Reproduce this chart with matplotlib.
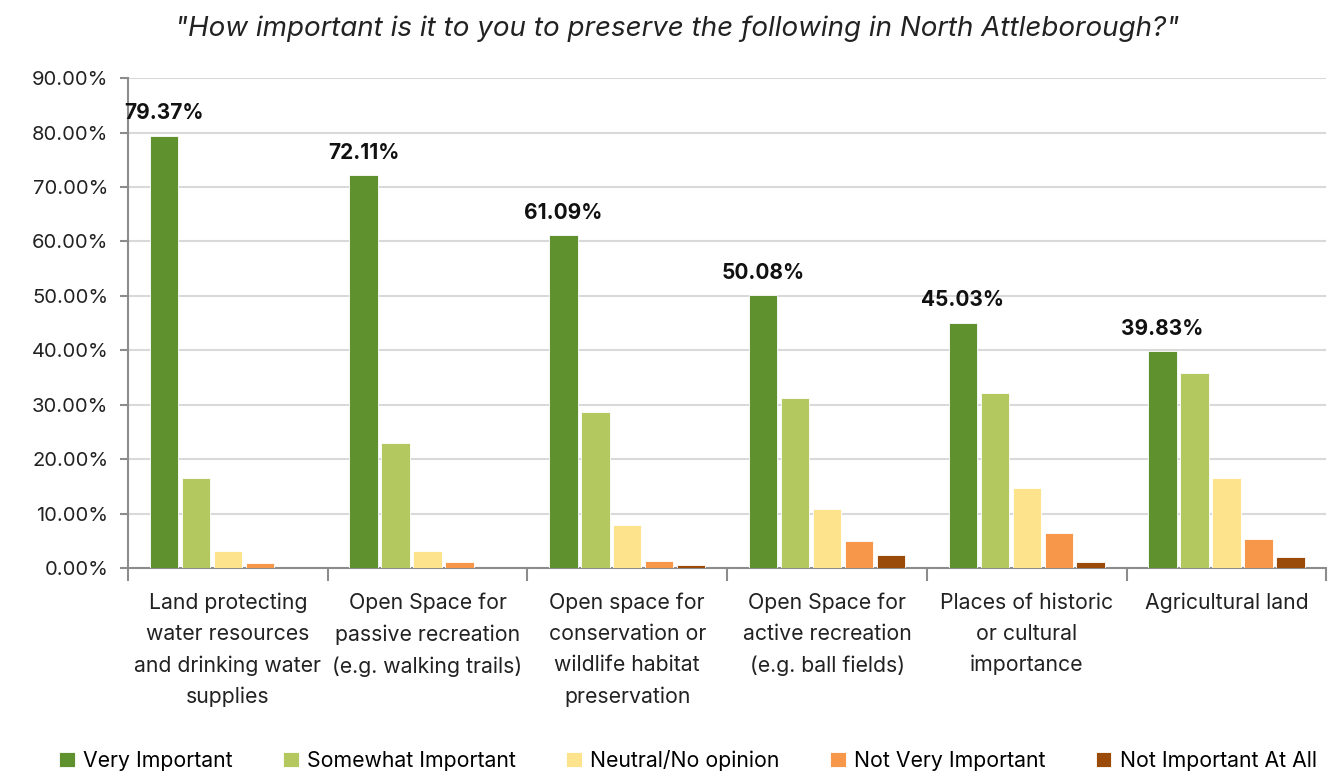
import matplotlib.pyplot as plt
import numpy as np
from matplotlib.ticker import FuncFormatter

plt.rcParams['font.family'] = ['Inter', 'DejaVu Sans']

categories = [
    'Land protecting\nwater resources\nand drinking water\nsupplies',
    'Open Space for\npassive recreation\n(e.g. walking trails)',
    'Open space for\nconservation or\nwildlife habitat\npreservation',
    'Open Space for\nactive recreation\n(e.g. ball fields)',
    'Places of historic\nor cultural\nimportance',
    'Agricultural land',
]
series_names = ['Very Important', 'Somewhat Important', 'Neutral/No opinion',
                'Not Very Important', 'Not Important At All']
very_important = [79.37, 72.11, 61.09, 50.08, 45.03, 39.83]
somewhat_important = [16.6, 23.0, 28.7, 31.3, 32.2, 35.9]
neutral = [3.1, 3.2, 8.0, 10.9, 14.8, 16.5]
not_very = [0.9, 1.2, 1.4, 4.9, 6.5, 5.4]
not_at_all = [0.0, 0.1, 0.5, 2.5, 1.1, 2.0]
colors = ['#5f912e', '#b3c95f', '#fde38c', '#f7974a', '#9a4a09']

series = [very_important, somewhat_important, neutral, not_very, not_at_all]

fig = plt.figure(figsize=(13.33, 7.73), dpi=100)
ax = fig.add_axes([0.096, 0.265, 0.899, 0.634])

x = np.arange(len(categories))
width = 0.142
pitch = 0.16
for i, (vals, name, col) in enumerate(zip(series, series_names, colors)):
    pos = x + (i - 2) * pitch
    ax.bar(pos, vals, width=width, color=col, label=name,
           edgecolor='white', linewidth=0.6, zorder=3)
    if i == 0:
        for px, v in zip(pos, vals):
            ax.text(px, v + 2.3, f'{v:.2f}%', ha='center', va='bottom',
                    fontsize=15, fontweight='bold', color='#111111')

ax.set_xlim(-0.5, len(categories) - 0.5)
ax.set_ylim(0, 90)
ax.set_yticks(np.arange(0, 91, 10))
ax.yaxis.set_major_formatter(FuncFormatter(lambda v, _: f'{v:.2f}%'))
ax.grid(axis='y', color='#d9d9d9', linewidth=1.5, zorder=0)

# group dividers as outward ticks on the category axis
ax.set_xticks(np.arange(-0.5, len(categories)), minor=False)
ax.set_xticklabels([])
ax.tick_params(axis='x', length=9, width=1.5, color='#8c8c8c', direction='out')
ax.tick_params(axis='y', length=6, width=1.5, color='#8c8c8c', direction='out',
               labelsize=14.5, labelcolor='#222222', pad=8)
for i, lab in enumerate(categories):
    ax.text(i, -4.5, lab, ha='center', va='top', fontsize=15.3,
            color='#222222', linespacing=1.68)

for side in ['top', 'right']:
    ax.spines[side].set_visible(False)
for side in ['left', 'bottom']:
    ax.spines[side].set_color('#8c8c8c')
    ax.spines[side].set_linewidth(1.5)

fig.text(0.508, 0.963, '"How important is it to you to preserve the following in North Attleborough?"',
         ha='center', va='center', fontsize=20, style='italic', color='#222222')

fig.legend(loc='lower center', bbox_to_anchor=(0.516, -0.022), ncol=5, frameon=False,
           fontsize=15.3, handlelength=0.75, handleheight=0.75, handletextpad=0.4,
           columnspacing=2.35)

fig.savefig('out.png', dpi=100)
